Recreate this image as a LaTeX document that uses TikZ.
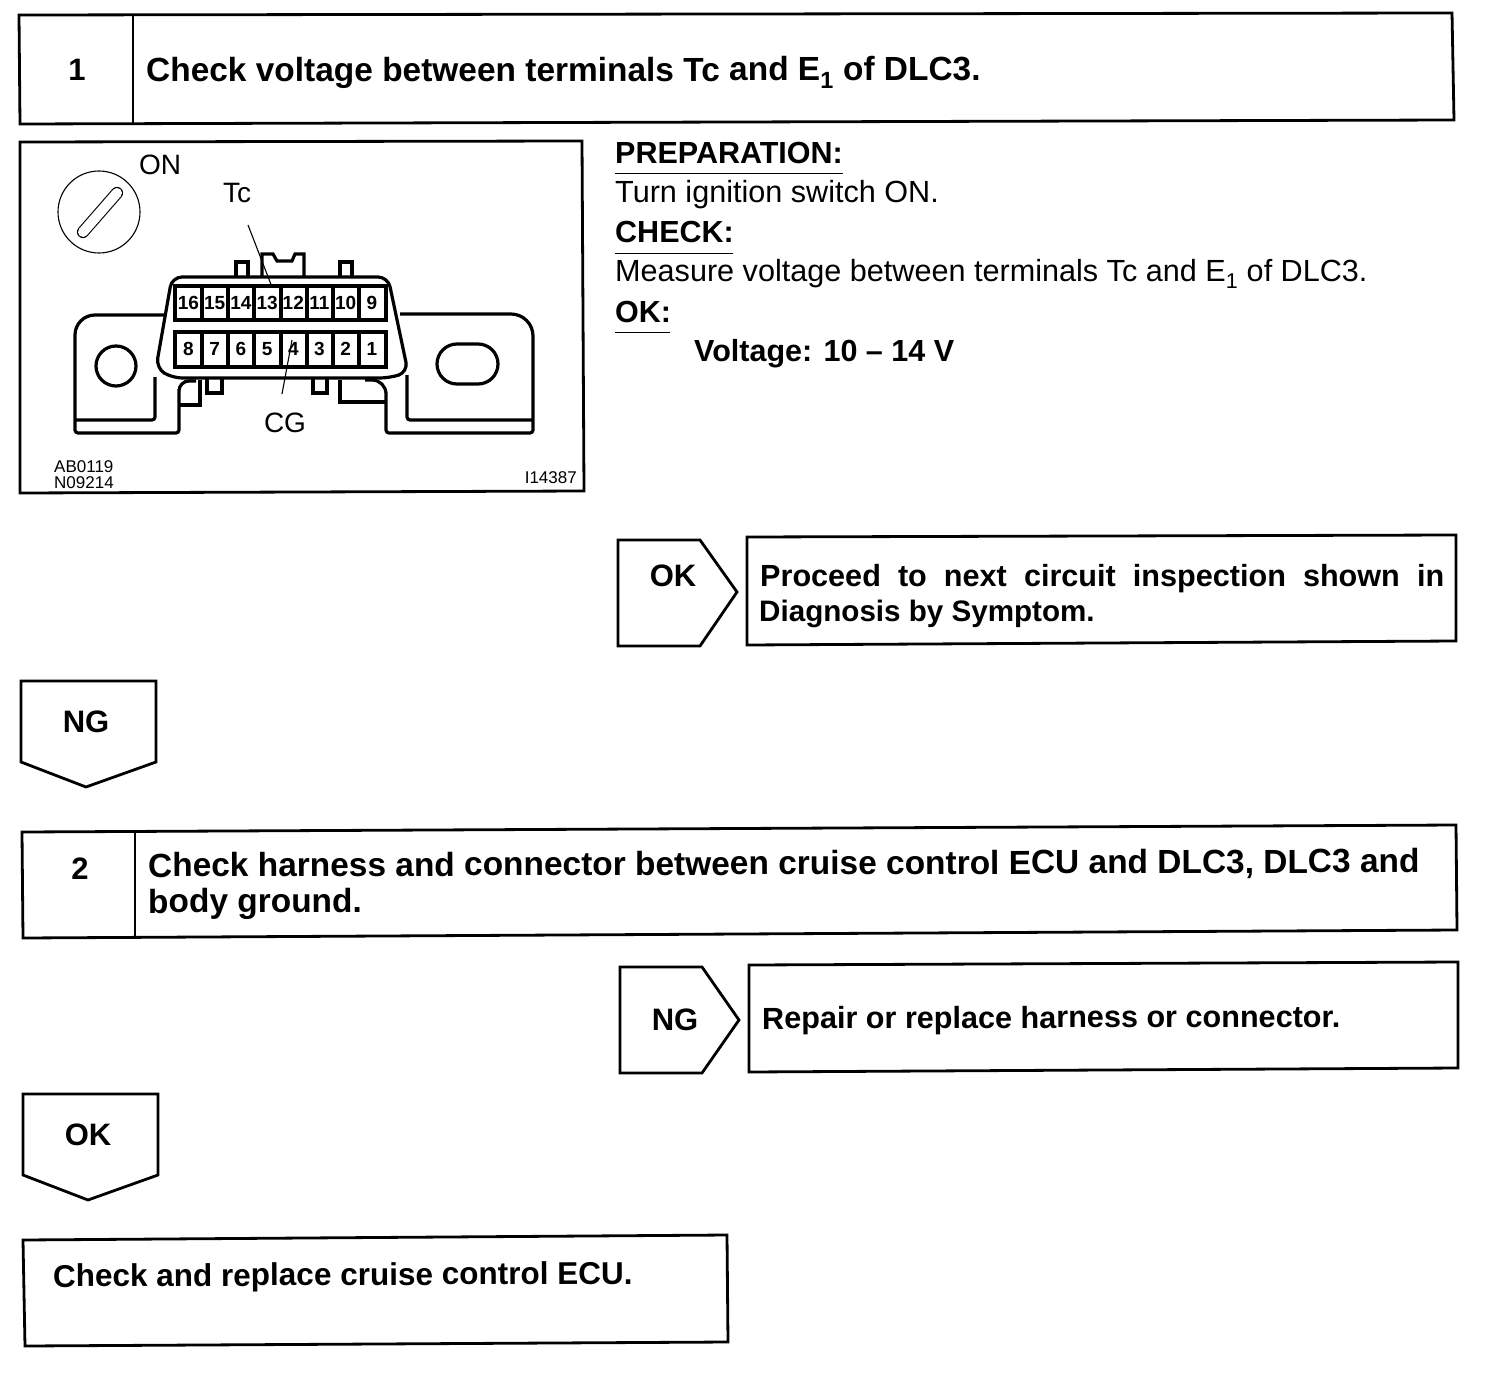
\documentclass[tikz,border=0pt]{standalone}
\usepackage{fontspec}
\setmainfont{Liberation Sans}
\usetikzlibrary{positioning}

\begin{document}
\begin{tikzpicture}[
   x=1pt,y=-1pt,
   frame/.style={draw=black,line width=2.8pt,line join=miter},
   part/.style={draw=black,line width=3.2pt,rounded corners=3pt},
   leader/.style={draw=black,line width=1.1pt},
   inner sep=0pt,
   bold head/.style={font=\fontsize{33.45}{36}\selectfont\bfseries,anchor=base west},
   step num/.style={font=\fontsize{31}{36}\selectfont\bfseries},
   note/.style={font=\fontsize{30.6}{36}\selectfont,anchor=base west},
   note bold/.style={font=\fontsize{30.5}{36}\selectfont\bfseries,anchor=base west},
   result/.style={font=\fontsize{30.6}{36}\selectfont\bfseries,anchor=base west},
   callout/.style={font=\fontsize{28}{30}\selectfont},
   code/.style={font=\fontsize{17}{18}\selectfont,anchor=base west},
   pin/.style={font=\fontsize{19}{20}\selectfont\bfseries}
 ]
  \useasboundingbox (0,0) rectangle (1504,1388);

  % Step 1 header.
  \draw[frame] (19,15) -- (1452,13) -- (1454,120) -- (20,124) -- cycle;
  \draw[frame] (133,15) -- (133,124);
  \node[step num] (stepone) at (77,70) {1};
  \node[bold head,rotate=.1] (titleone) at (146,82) {Check voltage between terminals Tc and E\textsubscript{1} of DLC3.};

  % Illustration frame.
  \draw[frame] (20,142) -- (582,141) -- (584,491) -- (20,493) -- cycle;

  % Ignition key.
  \draw[draw=black,line width=1.1pt] (99,212) circle (41);
  \draw[black,line width=1.1pt,double=white,double distance=10pt,line cap=round] (83,232) -- (117,193);
  \node[callout] (labelon) at (160,165) {ON};

  % Connector flanges, left then right.
  \draw[part] (165,315) -- (100,315) [rounded corners=20pt] -- (75,315) [rounded corners=3pt] -- (75,433) -- (179,433) -- (179,392) [rounded corners=10pt] -- (179,381) -- (196,381);
  \draw[part] (75,420) -- (155,420) -- (155,377);
  \draw[part,rounded corners=0pt] (179,405) -- (200,405) -- (200,380);
  \draw[part] (116,366) circle (20);
  \draw[part] (400,314) -- (508,314) [rounded corners=22pt] -- (533,314) [rounded corners=3pt] -- (533,433) -- (386,433) -- (386,395) [rounded corners=14pt] -- (386,380) -- (365,380);
  \draw[part] (533,420) -- (407,420) -- (407,375);
  \draw[part,rounded corners=0pt] (340,380) -- (340,402) -- (386,402);
  \draw[part,rounded corners=20pt] (437,344) rectangle (498,384);

  % Connector body with its tabs.
  \draw[part,rounded corners=0pt] (236,277) -- (236,262) -- (248,262) -- (248,277);
  \draw[part,rounded corners=0pt] (340,277) -- (340,262) -- (352,262) -- (352,277);
  \draw[part,rounded corners=0pt] (262,277) -- (262,254) -- (273,254) -- (277,261) -- (292,261) -- (295,254) -- (304,254) -- (304,277);
  \draw[part,rounded corners=0pt] (207,377) -- (207,393) -- (222,393) -- (222,377);
  \draw[part,rounded corners=0pt] (313,377) -- (313,393) -- (327,393) -- (327,377);
  \draw[part,rounded corners=10pt,fill=white] (172,277) -- (388,277) -- (408,372) -- (390,378) -- (172,378) -- (156,368) -- cycle;

  % Terminal cells.
  \draw[part,rounded corners=0pt] (175,286) rectangle (386,320);
  \draw[part,rounded corners=0pt] (175,332) rectangle (386,367);
  \foreach \xpos in {202,228,254,281,307,333,359} {
    \draw[part,rounded corners=0pt] (\xpos,286) -- (\xpos,320);
    \draw[part,rounded corners=0pt] (\xpos,332) -- (\xpos,367);
  }
  \foreach \num [count=\idx from 0] in {16,15,14,13,12,11,10,9}
    \node[pin] (pin\num) at (188.5+26.2*\idx,303) {\num};
  \foreach \num [count=\idx from 0] in {8,7,6,5,4,3,2,1}
    \node[pin] (pin\num) at (188.5+26.2*\idx,349) {\num};

  % Leaders and callouts.
  \node[callout] (labeltc) at (237,193) {Tc};
  \node[callout] (labelcg) at (285,423) {CG};
  \coordinate (tcfree) at (248,225);
  \coordinate (tcpin) at (272,287);
  \coordinate (cgfree) at (282,394);
  \coordinate (cgpin) at (292,340);
  \draw[leader] (tcfree) -- (tcpin);
  \draw[leader] (cgfree) -- (cgpin);
  \node[code] (codea) at (54,472) {AB0119};
  \node[code] (codeb) at (54,488) {N09214};
  \node[code,anchor=base east] (codec) at (577,483) {I14387};

  % Preparation and check notes.
  \node[note bold] (prep) at (615,164) {PREPARATION:};
  \draw[black,line width=1pt] (615,174) -- (843,174);
  \node[note] (prepline) at (615,203) {Turn ignition switch ON.};
  \node[note bold] (check) at (615,243) {CHECK:};
  \draw[black,line width=1pt] (615,254) -- (733,254);
  \node[note] (checkline) at (615,282) {Measure voltage between terminals Tc and E\textsubscript{1} of DLC3.};
  \node[note bold] (okhead) at (615,322) {OK:};
  \draw[black,line width=1pt] (615,332) -- (670,332);
  \node[note bold] (okline) at (694,361) {Voltage: 10 -- 14 V};

  % OK branch of step 1.
  \draw[frame] (618,540) -- (700,540) -- (737,592) -- (700,646) -- (618,646) -- cycle;
  \node[step num] (okone) at (673,576) {OK};
  \draw[frame] (747,537) -- (1456,535) -- (1456,641) -- (747,645) -- cycle;
  \node[result] (proceed) at (760,586) {\hbox to 684pt{Proceed\hfil to\hfil next\hfil circuit\hfil inspection\hfil shown\hfil in}};
  \node[result,font=\fontsize{29.6}{36}\selectfont\bfseries] (diagnosis) at (759,621) {Diagnosis by Symptom.};

  % NG branch down to step 2.
  \draw[frame] (21,681) -- (156,681) -- (156,762) -- (86,787) -- (21,762) -- cycle;
  \node[step num] (ngone) at (86,722) {NG};

  % Step 2 header.
  \draw[frame] (22,832) -- (1456,825) -- (1457,930) -- (23,938) -- cycle;
  \draw[frame] (135,832) -- (135,938);
  \node[step num] (steptwo) at (80,869) {2};
  \node[bold head,rotate=.2] (titletwo) at (148,877) {Check harness and connector between cruise control ECU and DLC3, DLC3 and};
  \node[bold head,rotate=.2] (titletwob) at (148,913) {body ground.};

  % NG branch of step 2.
  \draw[frame] (620,967) -- (702,967) -- (739,1020) -- (702,1073) -- (620,1073) -- cycle;
  \node[step num] (ngtwo) at (675,1020) {NG};
  \draw[frame] (749,965) -- (1458,962) -- (1458,1068) -- (749,1072) -- cycle;
  \node[result,rotate=.2] (repair) at (762,1029) {Repair or replace harness or connector.};

  % OK branch down to the last box.
  \draw[frame] (23,1094) -- (158,1094) -- (158,1175) -- (88,1200) -- (23,1175) -- cycle;
  \node[step num] (oktwo) at (88,1135) {OK};
  \draw[frame] (23,1240) -- (727,1235) -- (728,1342) -- (25,1346) -- cycle;
  \node[result,font=\fontsize{31.5}{36}\selectfont\bfseries,rotate=.3] (replace) at (53,1287) {Check and replace cruise control ECU.};
\end{tikzpicture}
\end{document}
